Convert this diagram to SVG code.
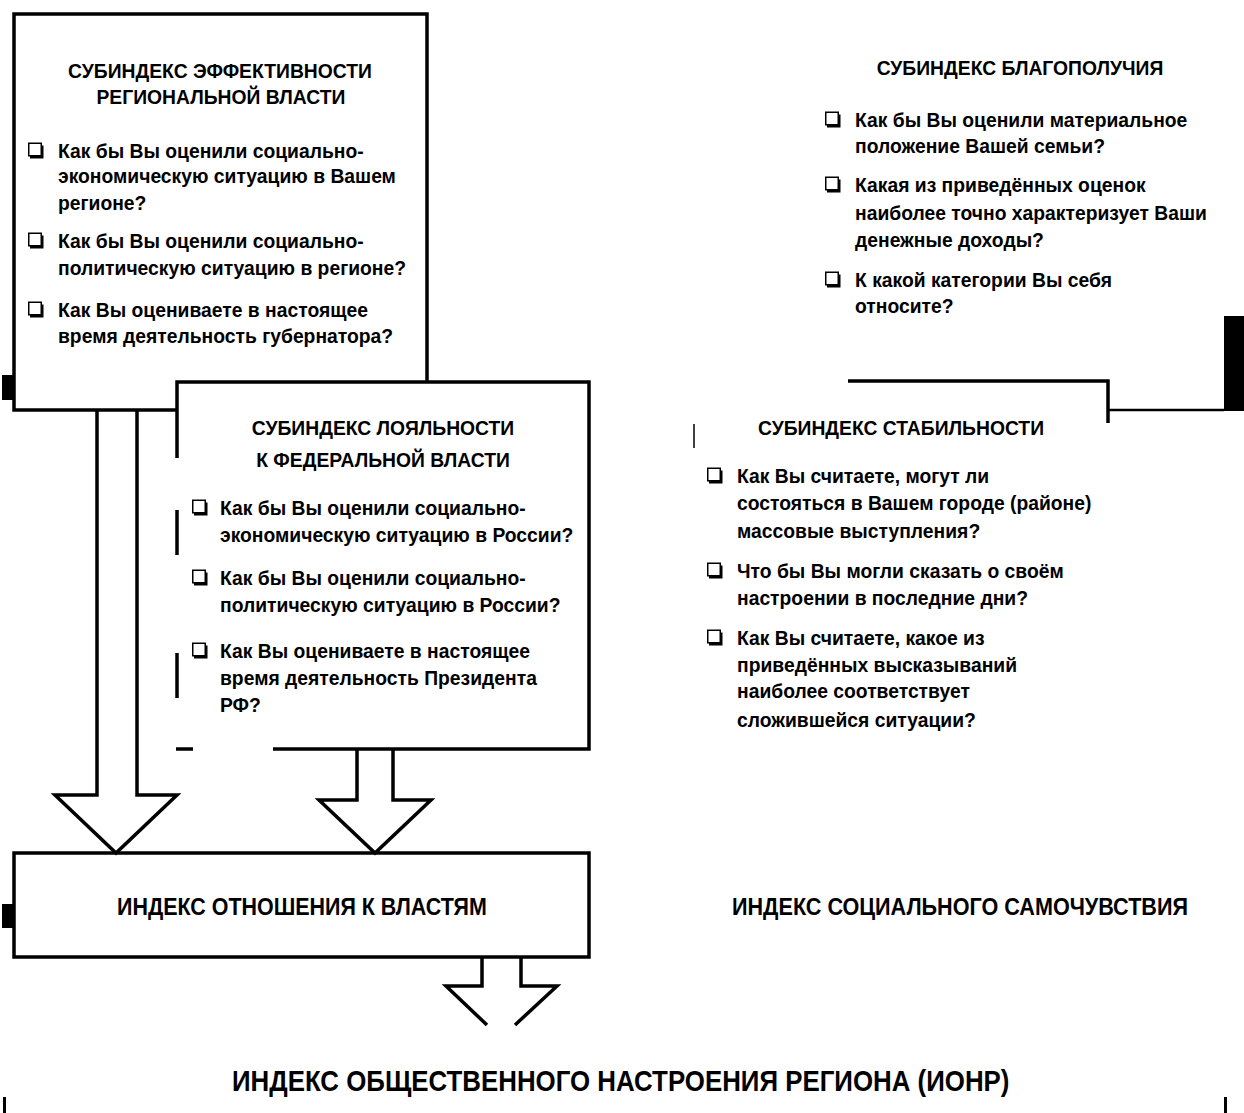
<svg xmlns="http://www.w3.org/2000/svg" width="1244" height="1113" viewBox="0 0 1244 1113">
<defs>
<style>
text{font-family:"Liberation Sans",Arial,sans-serif;font-weight:bold;fill:#000}
.t{font-size:21px}
.c{text-anchor:middle}
.big{font-size:24px}
.huge{font-size:29px}
.ln{fill:none;stroke:#000;stroke-width:3.5}
.thin{fill:none;stroke:#000;stroke-width:1.5}
.arrow{fill:#fff;stroke:#000;stroke-width:3.5;stroke-linejoin:miter}
</style>
<g id="cb">
<rect x="0.75" y="-14.75" width="12.5" height="12.5" fill="#fff" stroke="#000" stroke-width="1.5"/>
<polygon points="13,-12.5 15.5,-12.5 15.5,0.5 2,0.5 2,-2 13,-2" fill="#000"/>
</g>
</defs>
<rect width="1244" height="1113" fill="#fff"/>

<g id="connectors">
<polyline class="arrow" points="97,410 97,795 55,795 116,853 177,795 137,795 137,410"/>
<polyline class="arrow" points="357,750 357,800 319,800 375,853 431,800 393,800 393,750"/>
<polyline class="ln" points="482,957 482,986 446,986 487,1025"/>
<polyline class="ln" points="521,957 521,986 557,986 515,1025"/>
</g>

<g id="box-regional">
<rect class="ln" x="14" y="14" width="413" height="396" fill="#fff"/>
<rect x="2" y="375" width="12" height="25" fill="#000"/>
<g transform="translate(220,0) scale(0.92,1)">
<text class="t c" x="0" y="78">СУБИНДЕКС ЭФФЕКТИВНОСТИ</text>
<text class="t c" x="1" y="104">РЕГИОНАЛЬНОЙ ВЛАСТИ</text>
</g>
<use href="#cb" x="28" y="158"/>
<use href="#cb" x="28" y="248"/>
<use href="#cb" x="28" y="317"/>
<g transform="translate(58,0) scale(0.92,1)">
<text class="t" x="0" y="158">Как бы Вы оценили социально-</text>
<text class="t" x="0" y="183">экономическую ситуацию в Вашем</text>
<text class="t" x="0" y="210">регионе?</text>
<text class="t" x="0" y="248">Как бы Вы оценили социально-</text>
<text class="t" x="0" y="275">политическую ситуацию в регионе?</text>
<text class="t" x="0" y="317">Как Вы оцениваете в настоящее</text>
<text class="t" x="0" y="343">время деятельность губернатора?</text>
</g>
</g>

<g id="box-federal">
<rect x="177" y="382" width="412" height="367" fill="#fff"/>
<polyline class="ln" points="177,458 177,382 589,382 589,749 273,749"/>
<line class="ln" x1="177" y1="510" x2="177" y2="555"/>
<line class="ln" x1="177" y1="653" x2="177" y2="698"/>
<line class="ln" x1="176" y1="749" x2="193" y2="749"/>
<g transform="translate(383,0) scale(0.92,1)">
<text class="t c" x="0" y="435">СУБИНДЕКС ЛОЯЛЬНОСТИ</text>
<text class="t c" x="0" y="467">К ФЕДЕРАЛЬНОЙ ВЛАСТИ</text>
</g>
<use href="#cb" x="192" y="515"/>
<use href="#cb" x="192" y="585"/>
<use href="#cb" x="192" y="658"/>
<g transform="translate(220,0) scale(0.92,1)">
<text class="t" x="0" y="515">Как бы Вы оценили социально-</text>
<text class="t" x="0" y="542">экономическую ситуацию в России?</text>
<text class="t" x="0" y="585">Как бы Вы оценили социально-</text>
<text class="t" x="0" y="612">политическую ситуацию в России?</text>
<text class="t" x="0" y="658">Как Вы оцениваете в настоящее</text>
<text class="t" x="0" y="685">время деятельность Президента</text>
<text class="t" x="0" y="712">РФ?</text>
</g>
</g>

<g id="box-wellbeing">
<g transform="translate(1020,0) scale(0.92,1)">
<text class="t c" x="0" y="75">СУБИНДЕКС БЛАГОПОЛУЧИЯ</text>
</g>
<use href="#cb" x="825" y="127"/>
<use href="#cb" x="825" y="192"/>
<use href="#cb" x="825" y="287"/>
<g transform="translate(855,0) scale(0.92,1)">
<text class="t" x="0" y="127">Как бы Вы оценили материальное</text>
<text class="t" x="0" y="153">положение Вашей семьи?</text>
<text class="t" x="0" y="192">Какая из приведённых оценок</text>
<text class="t" x="0" y="220">наиболее точно характеризует Ваши</text>
<text class="t" x="0" y="247">денежные доходы?</text>
<text class="t" x="0" y="287">К какой категории Вы себя</text>
<text class="t" x="0" y="313">относите?</text>
</g>
<rect x="1224" y="316" width="20" height="95" fill="#000"/>
<polyline class="ln" points="848,381 1108,381 1108,423"/>
<line x1="1108" y1="410" x2="1224" y2="410" stroke="#000" stroke-width="2.5"/>
</g>

<g id="box-stability">
<line class="thin" x1="694" y1="424" x2="694" y2="448"/>
<g transform="translate(901,0) scale(0.92,1)">
<text class="t c" x="0" y="435">СУБИНДЕКС СТАБИЛЬНОСТИ</text>
</g>
<use href="#cb" x="707" y="483"/>
<use href="#cb" x="707" y="578"/>
<use href="#cb" x="707" y="645"/>
<g transform="translate(737,0) scale(0.92,1)">
<text class="t" x="0" y="483">Как Вы считаете, могут ли</text>
<text class="t" x="0" y="510">состояться в Вашем городе (районе)</text>
<text class="t" x="0" y="538">массовые выступления?</text>
<text class="t" x="0" y="578">Что бы Вы могли сказать о своём</text>
<text class="t" x="0" y="605">настроении в последние дни?</text>
<text class="t" x="0" y="645">Как Вы считаете, какое из</text>
<text class="t" x="0" y="672">приведённых высказываний</text>
<text class="t" x="0" y="698">наиболее соответствует</text>
<text class="t" x="0" y="727">сложившейся ситуации?</text>
</g>
</g>

<g id="index-authorities">
<rect class="ln" x="14" y="853" width="575" height="104" fill="#fff"/>
<rect x="2" y="904" width="12" height="24" fill="#000"/>
<g transform="translate(117,0) scale(0.894,1)">
<text class="big" x="0" y="915">ИНДЕКС ОТНОШЕНИЯ К ВЛАСТЯМ</text>
</g>
</g>

<g id="index-social">
<g transform="translate(732,0) scale(0.9,1)">
<text class="big" x="0" y="915">ИНДЕКС СОЦИАЛЬНОГО САМОЧУВСТВИЯ</text>
</g>
</g>

<g id="index-ionr">
<g transform="translate(232,0) scale(0.892,1)">
<text class="huge" x="0" y="1091">ИНДЕКС ОБЩЕСТВЕННОГО НАСТРОЕНИЯ РЕГИОНА (ИОНР)</text>
</g>
<rect x="3" y="1097" width="3" height="16" fill="#000"/>
<rect x="1224" y="1097" width="3" height="16" fill="#000"/>
</g>
</svg>
